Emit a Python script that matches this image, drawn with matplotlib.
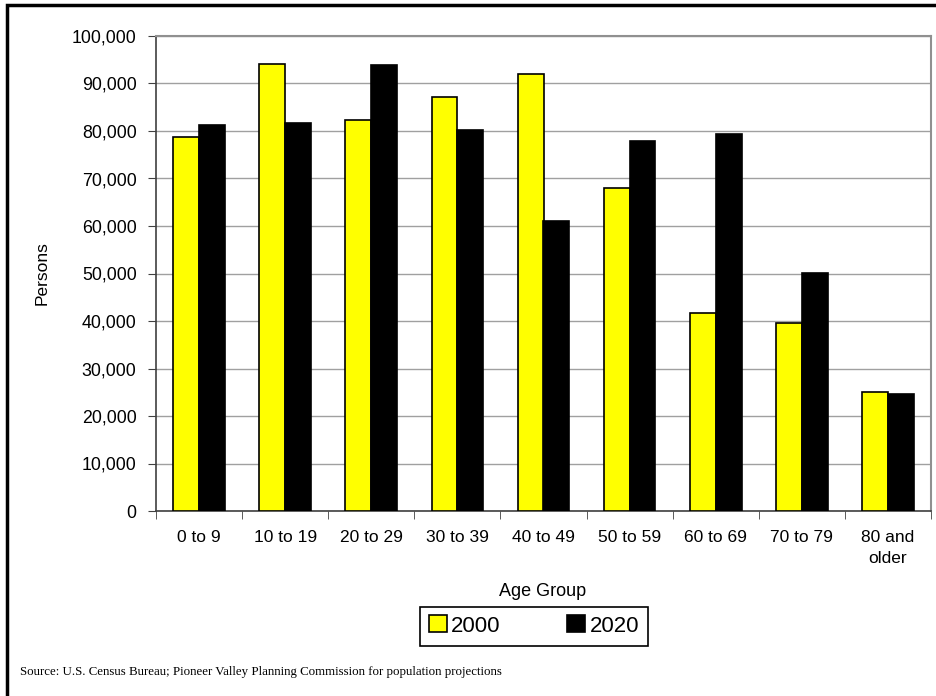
import numpy as np
import matplotlib
matplotlib.use('Agg')
from matplotlib import pyplot as plt
from matplotlib.patches import Rectangle
from matplotlib.ticker import FuncFormatter, MultipleLocator

plt.rcParams['font.family'] = ['Liberation Sans', 'DejaVu Sans']

# data
age_groups = ['0 to 9', '10 to 19', '20 to 29', '30 to 39', '40 to 49',
              '50 to 59', '60 to 69', '70 to 79', '80 and\nolder']
pop_2000 = [78800, 94100, 82300, 87200, 92000, 68000, 41700, 39500, 25000]
pop_2020 = [81300, 81600, 93900, 80300, 61000, 77800, 79400, 50200, 24700]

W, H = 937, 696
fig = plt.figure(figsize=(W / 100, H / 100), dpi=100)
ax = fig.add_axes([156 / W, 1 - 511 / H, (931 - 156) / W, (511 - 36) / H])

x = np.arange(len(age_groups))
bw = 0.3
ax.bar(x - bw / 2, pop_2000, bw, color='#FFFF00', edgecolor='black', linewidth=1.2, label='2000', zorder=3)
ax.bar(x + bw / 2, pop_2020, bw, color='black', edgecolor='black', linewidth=1.2, label='2020', zorder=3)

ax.set_xlim(-0.5, len(age_groups) - 0.5)
ax.set_ylim(0, 100000)
ax.yaxis.set_major_locator(MultipleLocator(10000))
ax.yaxis.set_major_formatter(FuncFormatter(lambda v, p: '{:,.0f}'.format(v)))
ax.grid(axis='y', color='#a0a0a0', linewidth=1, zorder=0)

ax.set_xticks(x)
ax.set_xticklabels(age_groups, fontsize=12.5, linespacing=1.45)
ax.set_xticks(np.arange(len(age_groups) + 1) - 0.5, minor=True)
ax.tick_params(axis='x', which='major', length=0, pad=14)
ax.tick_params(axis='x', which='minor', length=6, color='#404040', direction='out')
ax.tick_params(axis='y', length=6, color='#404040', labelsize=12.8, pad=8)

for s in ['top', 'right']:
    ax.spines[s].set_color('#909090')
    ax.spines[s].set_linewidth(1.5)
for s in ['left', 'bottom']:
    ax.spines[s].set_color('#404040')
    ax.spines[s].set_linewidth(1.2)

fig.text(42 / W, 1 - 273 / H, 'Persons', rotation=90, ha='center', va='center', fontsize=12.5)
fig.text(543 / W, 1 - 591 / H, 'Age Group', ha='center', va='center', fontsize=13)

leg = fig.legend(loc='center', bbox_to_anchor=(534 / W, 1 - 626 / H), ncol=2, fontsize=16,
                 frameon=True, fancybox=False, edgecolor='black', framealpha=1,
                 handlelength=0.8, handleheight=0.8, handletextpad=0.2, columnspacing=3.0,
                 borderpad=0.4, borderaxespad=0)
leg.get_frame().set_linewidth(1.2)

fig.text(20 / W, 1 - 672 / H, 'Source: U.S. Census Bureau; Pioneer Valley Planning Commission for population projections',
         family=['Liberation Serif', 'DejaVu Serif'], fontsize=9.3, ha='left', va='center')

# outer frame
fig.patches.append(Rectangle((7 / W, -0.2), 2, 1.2 - 5 / H, transform=fig.transFigure,
                             fill=False, edgecolor='black', linewidth=2.5, clip_on=False))

fig.savefig('out.png', dpi=100)
